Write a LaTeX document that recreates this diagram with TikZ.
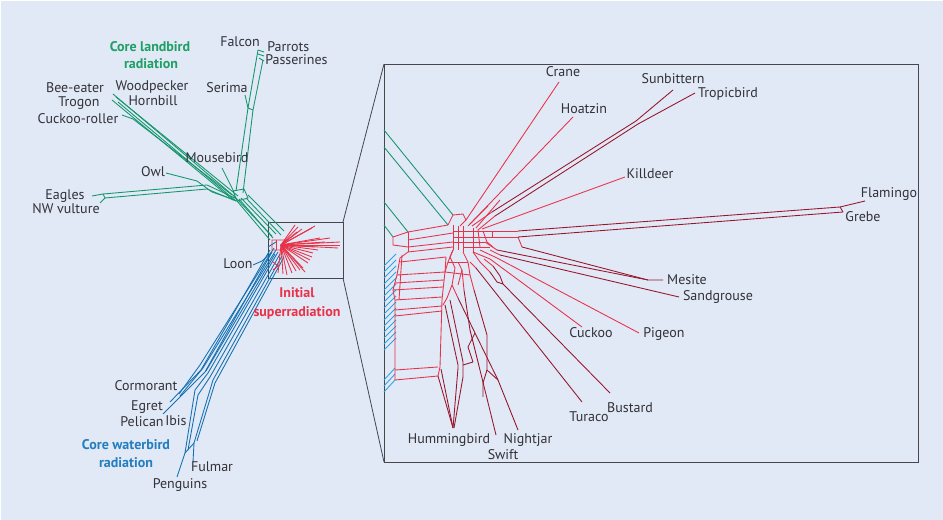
\documentclass[tikz,border=0pt]{standalone}
\usepackage{fontspec}
\setmainfont{PT Sans}
\definecolor{bgc}{RGB}{225,232,246}
\definecolor{grn}{RGB}{20,150,108}
\definecolor{grntxt}{RGB}{30,160,100}
\definecolor{blu}{RGB}{20,112,176}
\definecolor{blutxt}{RGB}{35,125,190}
\definecolor{lblu}{RGB}{45,165,220}
\definecolor{rd}{RGB}{232,50,72}
\definecolor{drd}{RGB}{150,22,42}
\definecolor{txt}{RGB}{50,50,55}
\definecolor{frm}{RGB}{70,70,75}
\begin{document}
\begin{tikzpicture}[x=0.75pt,y=-0.75pt,
  gline/.style={draw=grn,line width=0.65pt},
  bline/.style={draw=blu,line width=0.65pt},
  cline/.style={draw=lblu,line width=0.65pt},
  rline/.style={draw=rd,line width=0.65pt},
  dline/.style={draw=drd,line width=0.65pt},
  frame/.style={draw=frm,line width=0.6pt},
  lbl/.style={inner sep=0pt,text=txt,font=\fontsize{10.5}{12}\selectfont,text height=8pt,text depth=1pt},
  glbl/.style={inner sep=0pt,text=grntxt,font=\fontsize{10.5}{12}\selectfont\bfseries,text height=8pt,text depth=1pt},
  blbl/.style={inner sep=0pt,text=blutxt,font=\fontsize{10.5}{12}\selectfont\bfseries,text height=8pt,text depth=1pt},
  rlbl/.style={inner sep=0pt,text=rd,font=\fontsize{10.5}{12}\selectfont\bfseries,text height=8pt,text depth=1pt}]
\useasboundingbox (0,0) rectangle (943,520);
\fill[white] (0,0) rectangle (943,520);
\fill[bgc] (1.5,1) rectangle (943,520);

% ---------- frames ----------
\coordinate (sb1) at (268,222); \coordinate (sb2) at (343,278);
\coordinate (bb1) at (384,64); \coordinate (bb2) at (918,462);
\draw[frame] (sb1) rectangle (sb2);
\draw[frame] (bb1) rectangle (bb2);
\draw[frame] (sb1 -| sb2) -- (bb1);
\draw[frame] (sb2) -- (bb1 |- bb2);

% ---------- left: green ----------
\draw[gline] (236,191) -- (248,108) -- (258,50);
\draw[gline] (243,193) -- (253,110) -- (263,60);
\draw[gline] (248,108) -- (253,110);
\draw[gline] (245,95) -- (248,108);
\draw[gline] (258,50) -- (264,52);
\draw[gline] (258,54) -- (264,56);
\draw[gline] (259,58) -- (264,61);
\draw[gline] (233,191) -- (244,189) -- (248,198) -- (237,201) -- cycle;
\draw[gline] (113,94) -- (235,197);
\draw[gline] (112,100) -- (233,200);
\draw[gline] (116,97) -- (238,196);
\draw[gline] (118,102) -- (236,201);
\draw[gline] (122,115) -- (133,119) -- (232,195);
\draw[gline] (166,173) -- (197,181) -- (212,192) -- (235,200);
\draw[gline] (92,196) -- (103,194);
\draw[gline] (100,203) -- (105,198);
\draw[gline] (103,194) -- (207,185) -- (237,199);
\draw[gline] (105,198) -- (207,189) -- (236,201);
\draw[gline] (103,194) -- (105,198);
\draw[gline] (222,168) -- (234,192);
\draw[gline] (234,196) -- (272,236);
\draw[gline] (237,201) -- (270,240);
\draw[gline] (239,199) -- (273,238);
\draw[gline] (241,198) -- (276,234);
\draw[gline] (246,198) -- (281,235);
\draw[gline] (248,195) -- (284,231);

% ---------- left: blue ----------
\draw[bline] (274,248) -- (200,365) -- (179,394);
\draw[bline] (276,250) -- (203,368) -- (180,396);
\draw[bline] (272,252) -- (205,372) -- (163,414);
\draw[bline] (270,250) -- (201,370) -- (170,402);
\draw[bline] (275,254) -- (206,371);
\draw[bline] (278,252) -- (208,373) -- (195,390) -- (185,453) -- (177,477);
\draw[bline] (280,254) -- (210,377) -- (198,395) -- (188,450);
\draw[bline] (282,256) -- (213,380) -- (194,443) -- (193,462);
\draw[bline] (284,257) -- (215,383) -- (197,441);
\draw[bline] (185,453) -- (194,443);
\draw[bline] (253,265) -- (262,261) -- (272,252);
\draw[bline] (268,247) -- (276,242);

% ---------- left: red burst ----------
\foreach \p in {(295,225),(298,227),(302,229),(315,226),(312,228),(325,242),(340,242),(340,245),(338,248),(315,247),(318,250),
  (313,253),(312,257),(310,260),(308,263),(305,272),(303,268),(300,270),(296,271),(292,273),(287,275),(283,274),(278,273),(297,232),(330,238),(320,238)}
  \draw[rline] (281,245) -- \p;
\draw[rline] (272,240) -- (286,240) -- (283,250) -- (272,250) -- cycle;
\draw[rline] (276,240) -- (276,250);
\draw[rline] (273,262) -- (278,266) -- (273,270);

% ---------- big box: green & cyan ----------
\draw[gline] (384,130) -- (453,215);
\draw[gline] (384,147) -- (448,225);
\draw[gline] (384,202) -- (408,232);
\draw[gline] (384,225) -- (393,237);
\foreach \y in {254,260,...,338} \draw[cline] (384,\y+12) -- (396,\y);
\foreach \y in {368,374,380} \draw[cline] (384,\y+12) -- (395,\y);

% ---------- big box: red mesh ----------
\draw[rline] (448,225) -- (453,215) -- (463,214) -- (466,220) -- (460,226);
\draw[rline] (559,82) -- (466,220);
\draw[rline] (573,117) -- (470,224);
\draw[rline] (500,200) -- (476,228);
\draw[rline] (488,206) -- (468,226);
\draw[dline] (673,90) -- (636,121) -- (492,212);
\draw[dline] (695,93) -- (638,124) -- (495,216);
\draw[rline] (492,212) -- (472,226);
\draw[rline] (495,216) -- (478,230);
\draw[rline] (625,177) -- (482,229);
\draw[rline] (393,237) -- (408,232) -- (448,225);
\draw[rline] (393,237) -- (393,245) -- (408,247);
\draw[rline] (408,232) -- (408,252);
\draw[rline] (408,240) -- (453,233);
\draw[rline] (408,247) -- (453,242);
\draw[rline] (408,252) -- (453,247);
\draw[rline] (453,225) -- (453,250);
\draw[rline] (458,226) -- (458,250);
\draw[rline] (463,226) -- (463,252);
\draw[rline] (473,228) -- (473,252);
\draw[rline] (453,231) -- (518,231);
\draw[rline] (453,237) -- (518,237);
\draw[rline] (463,242) -- (485,242);
\draw[rline] (463,247) -- (490,247);
\draw[rline] (453,242) -- (463,242);
\draw[rline] (492,231) -- (492,237);
\draw[rline] (483,231) -- (487,242) -- (493,247);
\draw[rline] (478,230) -- (480,247);
\draw[rline] (518,237) -- (522,247);
\draw[dline] (518,231) -- (840,207) -- (865,201);
\draw[dline] (518,237) -- (843,212);
\draw[dline] (840,207) -- (843,212);
\draw[rline] (485,242) -- (497,250);
\draw[dline] (497,250) -- (648,280) -- (663,280);
\draw[dline] (522,247) -- (648,280);
\draw[rline] (490,250) -- (500,255);
\draw[dline] (500,255) -- (679,297);
\draw[rline] (480,250) -- (497,258) -- (639,333);
\draw[rline] (473,252) -- (490,259) -- (582,327);
\draw[rline] (453,250) -- (448,262) -- (445,272);
\draw[rline] (463,252) -- (468,262) -- (470,275);
\draw[rline] (473,252) -- (480,262);
\draw[rline] (448,262) -- (468,262);
\draw[rline] (445,272) -- (470,275);
\draw[rline] (458,262) -- (462,270) -- (458,285);
\draw[rline] (480,262) -- (490,272);
\draw[dline] (490,272) -- (497,282) -- (503,284) -- (610,393);
\draw[rline] (484,259) -- (493,266);
\draw[dline] (493,266) -- (500,276) -- (503,284);
\draw[rline] (470,262) -- (476,268);
\draw[dline] (476,268) -- (582,402);
\draw[rline] (408,252) -- (400,258) -- (397,275) -- (393,290) -- (395,300) -- (395,380);
\draw[rline] (402,255) -- (399,300);
\draw[rline] (400,262) -- (446,257);
\draw[rline] (397,275) -- (445,272);
\draw[rline] (395,283) -- (444,280);
\draw[rline] (393,290) -- (443,287);
\draw[rline] (395,300) -- (442,297);
\draw[rline] (395,310) -- (442,306);
\draw[rline] (395,316) -- (442,311);
\draw[rline] (395,370) -- (438,367);
\draw[rline] (395,380) -- (438,376);
\draw[rline] (446,257) -- (445,272) -- (443,290) -- (442,300) -- (440,367) -- (438,376);
\draw[rline] (453,250) -- (450,257) -- (455,268) -- (452,285) -- (447,298);
\draw[rline] (447,298) -- (443,305);
\draw[dline] (438,376) -- (453,428);
\draw[dline] (441,369) -- (453,428);
\draw[dline] (458,368) -- (453,428);
\draw[dline] (463,377) -- (454,428);
\draw[dline] (445,305) -- (458,365) -- (458,368);
\draw[dline] (450,300) -- (463,362) -- (463,377);
\draw[dline] (463,365) -- (473,362);
\draw[dline] (473,362) -- (468,347) -- (475,333);
\draw[rline] (462,270) -- (464,290);
\draw[dline] (464,290) -- (470,330) -- (478,362) -- (496,435);
\draw[rline] (452,285) -- (458,298);
\draw[dline] (458,298) -- (475,333) -- (498,380) -- (518,430);
\draw[rline] (470,275) -- (474,290);
\draw[dline] (474,290) -- (487,335) -- (487,370) -- (498,380);
\draw[dline] (487,370) -- (483,383) -- (483,397);

% ---------- labels left ----------
\node[glbl] (clr1) at (150,47) {Core landbird};
\node[glbl] (clr2) at (151,64) {radiation};
\node[lbl] (falcon) at (240,42) {Falcon};
\node[lbl,anchor=west] (parrots) at (267,47) {Parrots};
\node[lbl,anchor=west] (passer) at (265,60) {Passerines};
\node[lbl] (serima) at (227,88) {Serima};
\node[lbl] (woodp) at (152,86) {Woodpecker};
\node[lbl] (hornb) at (153,101) {Hornbill};
\node[lbl] (beeeat) at (75,88) {Bee-eater};
\node[lbl] (trogon) at (79,102) {Trogon};
\node[lbl] (cuckr) at (78,119) {Cuckoo-roller};
\node[lbl] (mouseb) at (217,158) {Mousebird};
\node[lbl] (owl) at (153,172) {Owl};
\node[lbl] (eagles) at (65,195) {Eagles};
\node[lbl] (nwv) at (66,209) {NW vulture};
\node[lbl] (loon) at (238,264) {Loon};
\node[rlbl] (isr1) at (297,293) {Initial};
\node[rlbl] (isr2) at (297,312) {superradiation};
\node[lbl] (cormo) at (146,386) {Cormorant};
\node[lbl] (egret) at (147,406) {Egret};
\node[lbl] (pelic) at (142,422) {Pelican};
\node[lbl] (ibis) at (176,421) {Ibis};
\node[blbl] (cwr1) at (126,445) {Core waterbird};
\node[blbl] (cwr2) at (126,463) {radiation};
\node[lbl] (fulmar) at (212,467) {Fulmar};
\node[lbl] (pengu) at (180,484) {Penguins};

% ---------- labels right ----------
\node[lbl] (crane) at (563,72) {Crane};
\node[lbl] (hoatz) at (584,109) {Hoatzin};
\node[lbl] (sunb) at (673,79) {Sunbittern};
\node[lbl] (tropb) at (728,93) {Tropicbird};
\node[lbl] (killd) at (650,174) {Killdeer};
\node[lbl] (flam) at (889,193) {Flamingo};
\node[lbl] (grebe) at (863,217) {Grebe};
\node[lbl] (mesite) at (687,280) {Mesite};
\node[lbl] (sandg) at (718,296) {Sandgrouse};
\node[lbl] (pigeon) at (664,333) {Pigeon};
\node[lbl] (cuckoo) at (591,333) {Cuckoo};
\node[lbl] (bust) at (630,408) {Bustard};
\node[lbl] (turaco) at (589,417) {Turaco};
\node[lbl] (humm) at (449,439) {Hummingbird};
\node[lbl] (nightj) at (528,439) {Nightjar};
\node[lbl] (swift) at (503,455) {Swift};
\end{tikzpicture}
\end{document}
